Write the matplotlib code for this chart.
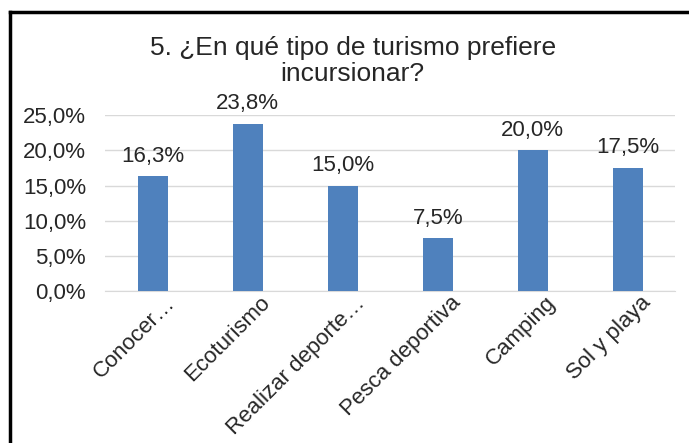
import matplotlib.pyplot as plt
from matplotlib.lines import Line2D
from matplotlib.transforms import ScaledTranslation

plt.rcParams['font.family'] = ['Liberation Sans', 'DejaVu Sans']

categories = ['Conocer…', 'Ecoturismo', 'Realizar deporte…', 'Pesca deportiva', 'Camping', 'Sol y playa']
values = [16.3, 23.8, 15.0, 7.5, 20.0, 17.5]
yticks = [0, 5, 10, 15, 20, 25]

fig = plt.figure(figsize=(6.89, 4.43), dpi=100)
ax = fig.add_axes([0.153, 0.343, 0.827, 0.397])

x = range(len(categories))
bars = ax.bar(x, values, width=0.32, color='#4F81BD', zorder=3)
for i, v in enumerate(values):
    ax.annotate(('%.1f%%' % v).replace('.', ','), (i, v), xytext=(0, 7), textcoords='offset points',
                ha='center', va='bottom', fontsize=16, color='#262626')

ax.set_xlim(-0.5, len(categories) - 0.5)
ax.set_ylim(0, 25)
ax.set_yticks(yticks)
ax.set_yticklabels([('%.1f%%' % t).replace('.', ',') for t in yticks], fontsize=16, color='#262626')
ax.set_xticks(list(x))
ax.set_xticklabels(categories, rotation=45, ha='right', rotation_mode='anchor',
                   fontsize=16, color='#262626')
ax.tick_params(axis='y', length=0, pad=14)
ax.tick_params(axis='x', length=0, pad=1)
shift = ScaledTranslation(0.12, 0.0, fig.dpi_scale_trans)
for lbl in ax.get_xticklabels():
    lbl.set_transform(lbl.get_transform() + shift)
ax.yaxis.grid(True, color='#D9D9D9', linewidth=1, zorder=0)
for s in ['top', 'right', 'left']:
    ax.spines[s].set_visible(False)
ax.spines['bottom'].set_color('#D9D9D9')

fig.text(0.512, 0.862, '5. ¿En qué tipo de turismo prefiere\nincursionar?', ha='center', va='center',
         fontsize=19, color='#262626', linespacing=1.1)

# frame lines of the original screenshot (left and top only)
fig.add_artist(Line2D([0.0145, 0.0145], [0, 0.972], transform=fig.transFigure, color='black', lw=2.5))
fig.add_artist(Line2D([0.0145, 1.0], [0.972, 0.972], transform=fig.transFigure, color='black', lw=2.5))

fig.savefig('out.png', dpi=100)
